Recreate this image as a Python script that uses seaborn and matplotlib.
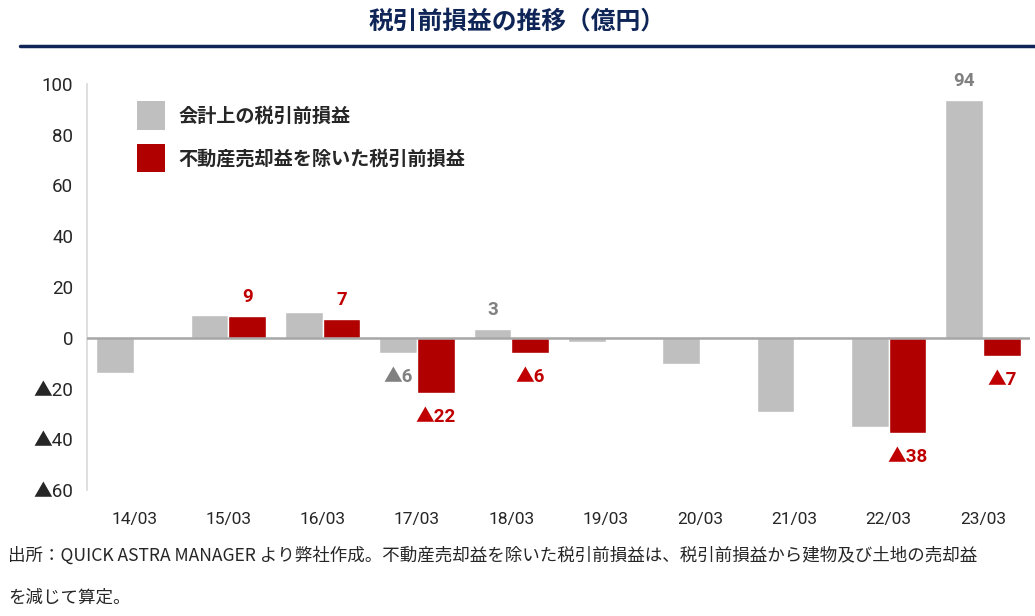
import numpy as np
import pandas as pd
import matplotlib
matplotlib.use("Agg")
import matplotlib.pyplot as plt
from matplotlib.patches import Patch
from matplotlib.lines import Line2D
import seaborn as sns

# data (億円)
years = ['14/03', '15/03', '16/03', '17/03', '18/03', '19/03', '20/03', '21/03', '22/03', '23/03']
accounting = [-14.0, 9.0, 10.0, -6.2, 3.4, -1.8, -10.5, -29.4, -35.3, 93.8]
excl_sales = [np.nan, 8.7, 7.4, -21.6, -5.9, np.nan, np.nan, np.nan, -37.6, -7.2]
series_names = ['会計上の税引前損益', '不動産売却益を除いた税引前損益']
# which bars carry a value label
accounting_labeled = ['17/03', '18/03', '23/03']
excl_labeled = ['15/03', '16/03', '17/03', '18/03', '22/03', '23/03']
yticks = [100, 80, 60, 40, 20, 0, -20, -40, -60]

GREY = '#BFBFBF'
RED = '#B00000'
GREY_TXT = '#808080'
RED_TXT = '#C00000'
NAVY = '#0F2557'
CJK = 'Noto Sans CJK JP'
NUM = ['Roboto', CJK]  # Roboto has no ▲, so the full-size CJK one is used

df = pd.DataFrame({
    'year': years * 2,
    'value': accounting + excl_sales,
    'series': [series_names[0]] * len(years) + [series_names[1]] * len(years),
})

sns.set_style('white')
plt.rcParams['font.family'] = ['Liberation Sans', CJK]

fig = plt.figure(figsize=(10.35, 6.16), dpi=100)
ax = fig.add_axes([87 / 1035, 126 / 616, 943 / 1035, 406 / 616])

sns.barplot(data=df, x='year', y='value', hue='series', order=years,
            hue_order=series_names, palette=[GREY, RED], width=0.8,
            saturation=1, ax=ax, legend=False)

ax.set_ylim(-60, 100)
ax.set_xlim(-0.5, len(years) - 0.5)
ax.set_yticks(yticks)
ax.set_yticklabels([str(v) if v >= 0 else '▲' + str(-v) for v in yticks],
                   fontsize=13.5, family=NUM)
for t in ax.get_xticklabels():
    t.set_family(NUM)
ax.tick_params(axis='y', length=4, color='#D9D9D9', width=1, pad=6)
ax.tick_params(axis='x', length=0, labelsize=12.5, pad=16)
ax.set_xlabel('')
ax.set_ylabel('')
for s in ['top', 'right', 'bottom']:
    ax.spines[s].set_visible(False)
ax.spines['left'].set_color('#D9D9D9')
ax.spines['left'].set_linewidth(1.2)
ax.axhline(0, color='#A6A6A6', lw=1.8, zorder=3)


def fmt(v):
    r = int(round(abs(v)))
    return str(r) if v >= 0 else '▲' + str(r)


def put_labels(values, labeled, offset, color):
    for i, y in enumerate(years):
        v = values[i]
        if y not in labeled or np.isnan(v):
            continue
        if v >= 0:
            ax.annotate(fmt(v), (i + offset, v), xytext=(0, 10), textcoords='offset pixels',
                        ha='center', va='bottom', fontsize=13.5, fontweight='bold',
                        color=color, family=NUM)
        else:
            ax.annotate(fmt(v), (i + offset, v), xytext=(0, -15), textcoords='offset pixels',
                        ha='center', va='top', fontsize=13.5, fontweight='bold',
                        color=color, family=NUM)


put_labels(accounting, accounting_labeled, -0.2, GREY_TXT)
put_labels(excl_sales, excl_labeled, 0.2, RED_TXT)

handles = [Patch(facecolor=GREY, edgecolor='none'), Patch(facecolor=RED, edgecolor='none')]
fig.legend(handles, series_names, loc='upper left', bbox_to_anchor=(120 / 1035, 1 - 84 / 616),
           frameon=False, handlelength=1.45, handleheight=1.9, handletextpad=0.7,
           labelspacing=0.75, prop={'family': CJK, 'weight': 'bold', 'size': 13.8})

fig.text(0.5, 1 - 22 / 616, '税引前損益の推移（億円）', ha='center', va='center',
         fontsize=17.8, fontweight='bold', color=NAVY, family=CJK)
fig.add_artist(Line2D([20 / 1035, 1.0], [1 - 46 / 616, 1 - 46 / 616], color=NAVY, lw=2.5))

fig.text(8 / 1035, 1 - 556 / 616,
         '出所：QUICK ASTRA MANAGER より弊社作成。不動産売却益を除いた税引前損益は、税引前損益から建物及び土地の売却益',
         ha='left', va='center', fontsize=12.6, family=[CJK, 'DejaVu Sans'])
fig.text(8 / 1035, 1 - 598 / 616, 'を減じて算定。',
         ha='left', va='center', fontsize=12.6, family=[CJK, 'DejaVu Sans'])

fig.savefig('out.png', dpi=100)
